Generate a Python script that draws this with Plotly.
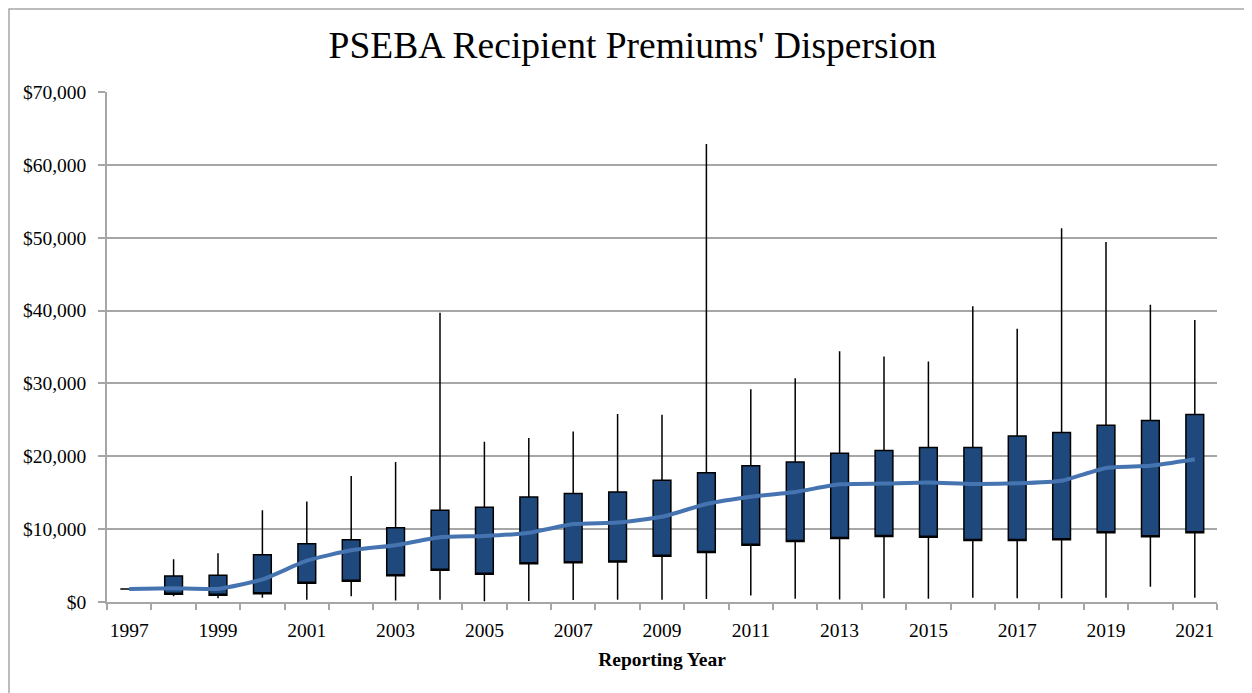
import plotly.graph_objects as go

# values (US$)
years = list(range(1997, 2022))
low = [1800, 800, 500, 600, 300, 800, 200, 300, 100, 150, 270, 300, 300,
       400, 900, 450, 350, 500, 450, 600, 500, 500, 600, 2100, 600]
q1 = [1800, 1050, 920, 1140, 2560, 2840, 3600, 4350, 3800, 5260, 5400, 5500, 6270,
      6800, 7800, 8300, 8700, 9000, 8900, 8450, 8450, 8550, 9500, 8970, 9500]
q3 = [1800, 3570, 3660, 6500, 8000, 8550, 10200, 12600, 13000, 14400, 14900, 15100, 16700,
      17750, 18700, 19200, 20400, 20800, 21200, 21200, 22800, 23250, 24250, 24900, 25750]
high = [1800, 5860, 6680, 12580, 13800, 17300, 19200, 39700, 22000, 22500, 23400, 25800, 25700,
        62860, 29200, 30700, 34400, 33700, 33000, 40600, 37500, 51300, 49400, 40800, 38700]
mean = [1800, 1880, 1800, 3100, 5670, 7100, 7800, 8900, 9060, 9500, 10700, 10900, 11700,
        13450, 14450, 15100, 16150, 16250, 16400, 16200, 16300, 16650, 18400, 18700, 19600]
tick_years = years[::2]

GRID = "#a6a6a6"
FONT = "Liberation Serif, Times New Roman, serif"

fig = go.Figure()

fig.add_trace(go.Scatter(
    x=years, y=mean, mode="lines", name="Mean",
    line=dict(color="#4674B0", width=4, shape="spline", smoothing=0.5),
    showlegend=False,
))

fig.add_trace(go.Box(
    x=years, q1=q1, median=q1, q3=q3,
    lowerfence=low, upperfence=high,
    width=0.4, whiskerwidth=0, boxpoints=False,
    fillcolor="#1F497D",
    line=dict(color="#000000", width=1.5),
    showlegend=False,
))

# page body has an 8px margin, so the margins are offset by that
fig.update_layout(
    width=1252, height=693,
    margin=dict(l=99, r=43, t=84, b=99),
    paper_bgcolor="white", plot_bgcolor="white",
    font=dict(family=FONT, size=19.5, color="black"),
    title=dict(
        text="PSEBA Recipient Premiums' Dispersion",
        x=624.5 / 1252, xref="container", xanchor="center",
        y=1 - 37 / 693, yanchor="middle",
        font=dict(family=FONT, size=37.5, color="black"),
    ),
    xaxis=dict(
        range=[years[0] - 0.5, years[-1] + 0.5],
        tickmode="array", tickvals=tick_years, ticktext=[str(y) for y in tick_years],
        ticks="", showgrid=False, zeroline=False, ticklabelstandoff=10,
        showline=True, linecolor=GRID, linewidth=1.5,
        minor=dict(tickmode="array", tickvals=[y - 0.5 for y in years] + [years[-1] + 0.5],
                   ticks="outside", ticklen=6, tickcolor=GRID, tickwidth=1.5, showgrid=False),
        title=dict(text="<b>Reporting Year</b>", standoff=12,
                   font=dict(family=FONT, size=19.5)),
        tickfont=dict(family=FONT, size=19.5),
    ),
    yaxis=dict(
        range=[0, 70000], dtick=10000, tickprefix="$", tickformat=",",
        showgrid=True, gridcolor=GRID, gridwidth=1.5, zeroline=False,
        showline=True, linecolor=GRID, linewidth=1.5,
        ticks="outside", ticklen=7, tickcolor=GRID, tickwidth=1.5, ticklabelstandoff=8,
        tickfont=dict(family=FONT, size=19.5),
    ),
    # chart-area border (left and top edges visible, as in the reference)
    shapes=[dict(
        type="rect", xref="paper", yref="paper",
        x0=-98 / 1110, x1=1.2, y0=-0.4, y1=593 / 510,
        line=dict(color=GRID, width=1.5), fillcolor="rgba(0,0,0,0)", layer="below",
    )],
)

fig.write_html("out.html")
